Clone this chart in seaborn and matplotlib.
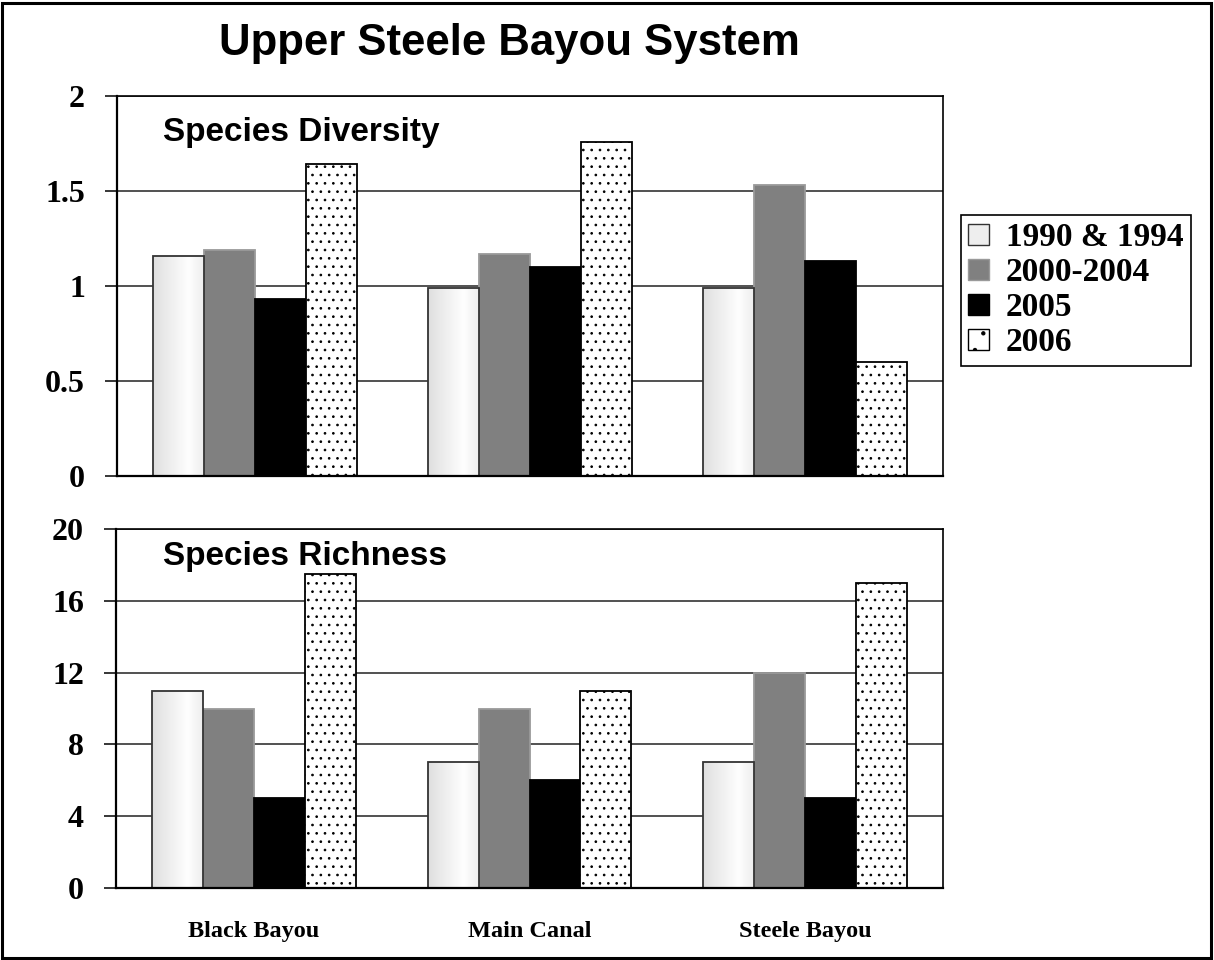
import numpy as np
import pandas as pd
import matplotlib
matplotlib.use("Agg")
import matplotlib.pyplot as plt
import seaborn as sns
from matplotlib.patches import Rectangle, Patch

# ---------------- data ----------------
sites = ["Black Bayou", "Main Canal", "Steele Bayou"]
periods = ["1990 & 1994", "2000-2004", "2005", "2006"]

diversity_1990_1994 = [1.16, 0.99, 0.99]
diversity_2000_2004 = [1.19, 1.17, 1.53]
diversity_2005 = [0.93, 1.10, 1.13]
diversity_2006 = [1.64, 1.76, 0.60]

richness_1990_1994 = [11, 7, 7]
richness_2000_2004 = [10, 10, 12]
richness_2005 = [5, 6, 5]
richness_2006 = [17.5, 11, 17]

div_ticks = [0, 0.5, 1, 1.5, 2]
div_ticklabels = ["0", "0.5", "1", "1.5", "2"]
rich_ticks = [0, 4, 8, 12, 16, 20]
rich_ticklabels = ["0", "4", "8", "12", "16", "20"]

title = "Upper Steele Bayou System"
panel_labels = ["Species Diversity", "Species Richness"]


def long_frame(series):
    rows = []
    for period, vals in zip(periods, series):
        for site, v in zip(sites, vals):
            rows.append({"site": site, "period": period, "value": v})
    return pd.DataFrame(rows)


df_div = long_frame([diversity_1990_1994, diversity_2000_2004, diversity_2005, diversity_2006])
df_rich = long_frame([richness_1990_1994, richness_2000_2004, richness_2005, richness_2006])

# ---------------- style ----------------
sns.set_style("white")
plt.rcParams["font.family"] = ["Liberation Serif", "DejaVu Serif"]
plt.rcParams["text.color"] = "black"
plt.rcParams["xtick.color"] = "black"
plt.rcParams["ytick.color"] = "black"
plt.rcParams["hatch.linewidth"] = 0.7
plt.rcParams["hatch.color"] = "black"

face_colors = ["#e6e6e6", "#808080", "#000000", "#ffffff"]
edge_colors = ["#333333", "#9a9a9a", "#000000", "#000000"]

W, H = 1214, 960
fig = plt.figure(figsize=(W / 100, H / 100), dpi=100)

ax1 = fig.add_axes([117 / W, 1 - 476 / H, (943 - 117) / W, (476 - 96) / H])
ax2 = fig.add_axes([116 / W, 1 - 888 / H, (943 - 116) / W, (888 - 529) / H])

serif_bold = dict(family=["Liberation Serif", "DejaVu Serif"], weight="bold")
sans_bold = dict(family=["Liberation Sans", "DejaVu Sans"], weight="bold")

gradient = np.interp(np.linspace(0, 1, 200), [0, 0.15, 0.7, 1.0], [0.87, 0.9, 0.995, 0.93])
gradient = gradient[np.newaxis, :]


def draw_panel(ax, df, ylim, ticks, ticklabels, show_xlabels):
    sns.barplot(data=df, x="site", y="value", hue="period", order=sites,
                hue_order=periods, palette=face_colors, saturation=1,
                width=0.74, gap=0, legend=False, ax=ax, errorbar=None)
    for i, cont in enumerate(ax.containers):
        for p in cont.patches:
            p.set_edgecolor(edge_colors[i])
            p.set_linewidth(1.3)
            if i == 3:
                p.set_hatch("..")
            if i == 0:
                x, w, h = p.get_x(), p.get_width(), p.get_height()
                im = ax.imshow(gradient, extent=[x, x + w, 0, h], aspect="auto",
                               cmap="gray", vmin=0, vmax=1, zorder=p.get_zorder() + 0.1,
                               interpolation="bilinear")
                im.set_clip_path(p)
                p.set_facecolor("none")
                p.set_zorder(p.get_zorder() + 0.2)
    ax.set_xlim(-0.5, 2.5)
    ax.set_ylim(*ylim)
    ax.set_yticks(ticks)
    ax.set_yticklabels(ticklabels, **serif_bold, fontsize=23)
    ax.yaxis.grid(True, color="#222222", linewidth=1.1)
    ax.xaxis.grid(False)
    ax.set_axisbelow(True)
    ax.set_xticks([0, 1, 2])
    ax.set_xticks([-0.5, 0.5, 1.5, 2.5], minor=True)
    ax.tick_params(axis="x", which="major", length=0, pad=24)
    ax.tick_params(axis="x", which="minor", length=7, width=1.2, direction="out", color="black")
    ax.tick_params(axis="y", which="major", length=9, width=1.1, direction="out",
                   color="black", pad=14, left=True)
    if show_xlabels:
        ax.set_xticklabels(sites, **serif_bold, fontsize=17.5)
    else:
        ax.set_xticklabels([])
    ax.set_xlabel("")
    ax.set_ylabel("")
    for name, sp in ax.spines.items():
        sp.set_visible(True)
        sp.set_color("black")
        sp.set_linewidth(1.6 if name in ("left", "bottom") else 1.2)


draw_panel(ax1, df_div, (0, 2), div_ticks, div_ticklabels, False)
draw_panel(ax2, df_rich, (0, 20), rich_ticks, rich_ticklabels, True)

# ---------------- texts ----------------
fig.text(509 / W, 1 - 44 / H, title, ha="center", va="center", fontsize=31.5,
         color="black", **sans_bold)
fig.text(163 / W, 1 - 132 / H, panel_labels[0], ha="left", va="center", fontsize=24,
         color="black", **sans_bold)
fig.text(163 / W, 1 - 557 / H, panel_labels[1], ha="left", va="center", fontsize=24,
         color="black", **sans_bold)

# ---------------- legend ----------------
handles = [
    Patch(facecolor="#eeeeee", edgecolor="#333333", linewidth=1.0),
    Patch(facecolor=face_colors[1], edgecolor=edge_colors[1], linewidth=1.0),
    Patch(facecolor=face_colors[2], edgecolor=edge_colors[2], linewidth=1.0),
    Patch(facecolor="white", edgecolor="black", hatch=".", linewidth=1.0),
]
leg = fig.legend(handles, periods, loc="upper left",
                 bbox_to_anchor=(961 / W, 1 - 215 / H),
                 frameon=True, fancybox=False, edgecolor="black", framealpha=1,
                 prop=dict(family=["Liberation Serif", "DejaVu Serif"], weight="bold", size=24),
                 handlelength=0.62, handleheight=0.55, handletextpad=0.5,
                 labelspacing=0.12, borderpad=0.22, borderaxespad=0)
leg.get_frame().set_linewidth(1.2)
for t in leg.get_texts():
    t.set_color("black")

# ---------------- outer frame ----------------
fig.add_artist(Rectangle((2 / W, 2 / H), (W - 5) / W, (H - 5) / H,
                         transform=fig.transFigure, fill=False,
                         edgecolor="black", linewidth=2.2))

fig.savefig("out.png", dpi=100)
